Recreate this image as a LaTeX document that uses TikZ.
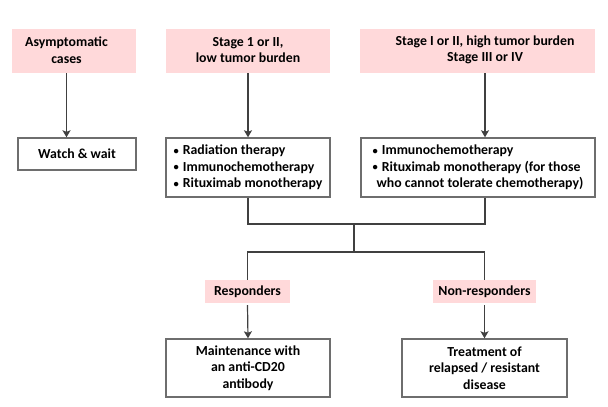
\documentclass[tikz,border=0pt]{standalone}
\usepackage{fontspec}
\setmainfont{Carlito}
\usetikzlibrary{arrows.meta}
\definecolor{pinkfill}{HTML}{FFD9DA}
\definecolor{boxline}{HTML}{6E6E6E}
\definecolor{arrline}{HTML}{404040}
\newcommand{\mybul}{\raisebox{0.5pt}{\fontsize{10.5}{10}\selectfont •}\hspace{4pt}}
\begin{document}
\begin{tikzpicture}[x=1pt,y=-1pt,
  every node/.style={font=\fontsize{13.8}{16.6}\selectfont\bfseries, text=black},
  pinkbox/.style={fill=pinkfill, draw=none, inner sep=0pt},
  whitebox/.style={draw=boxline, line width=1.4pt, fill=white, inner sep=2pt},
  ln/.style={draw=arrline, line width=1.2pt},
  arr/.style={ln, -{Stealth[length=7pt, width=8pt, inset=1.5pt]}}]
\useasboundingbox (0,0) rectangle (608,407);

% header boxes
\node[pinkbox, minimum width=124pt, minimum height=44pt] (h1) at (74,51) {};
\node[align=center, inner sep=0pt] (h1t) at (66.5,50) {Asymptomatic\\cases};
\node[pinkbox, minimum width=164pt, minimum height=44pt] (h2) at (248,51) {};
\node[align=center, inner sep=0pt] (h2t) at (248,50) {Stage 1 or II,\\low tumor burden};
\node[pinkbox, minimum width=235pt, minimum height=44pt] (h3) at (477.5,51) {};
\node[align=center, inner sep=0pt] (h3t) at (485,50) {Stage I or II, high tumor burden\\Stage III or IV};

% second row
\node[whitebox, minimum width=118pt, minimum height=32pt] (ww) at (77,154) {Watch \& wait};
\node[whitebox, minimum width=164pt, minimum height=59pt, align=left] (b2) at (248,167.5)
  {\mybul Radiation therapy\\\mybul Immunochemotherapy\\\mybul Rituximab monotherapy};
\node[whitebox, minimum width=234pt, minimum height=59pt, align=left] (b3) at (478,167.5)
  {\mybul Immunochemotherapy\\\mybul Rituximab monotherapy (for those\\\hspace*{4pt}who cannot tolerate chemotherapy)};

% response labels
\node[pinkbox, minimum width=85pt, minimum height=23pt] (resp) at (247.5,291.5) {Responders};
\node[pinkbox, minimum width=103pt, minimum height=23pt] (nonr) at (484.5,291.5) {Non-responders};

% bottom boxes
\node[whitebox, minimum width=164pt, minimum height=58pt, align=center] (maint) at (248,368)
  {Maintenance with\\an anti-CD20\\antibody};
\node[whitebox, minimum width=165pt, minimum height=58pt, align=center] (treat) at (484.5,368)
  {Treatment of\\relapsed / resistant\\disease};

% connectors
\coordinate (j1) at (354,224);
\coordinate (j2) at (354,252);
\draw[arr] (h1t |- h1.south) -- (h1t |- ww.north);
\draw[arr] (h2t |- h2.south) -- (h2t |- b2.north);
\draw[arr] (h3t |- h3.south) -- (h3t |- b3.north);
\draw[ln] (h2t |- b2.south) -- (h2t |- j1) -- (h3t |- j1) -- (h3t |- b3.south);
\draw[ln] (j1) -- (j2);
\draw[ln] (resp.north) -- (resp.north |- j2) -- (nonr.north |- j2) -- (nonr.north);
\draw[arr] (resp.south) ++(0,2) -- (maint.north);
\draw[arr] (nonr.south) ++(0,2) -- (treat.north);
\end{tikzpicture}
\end{document}
